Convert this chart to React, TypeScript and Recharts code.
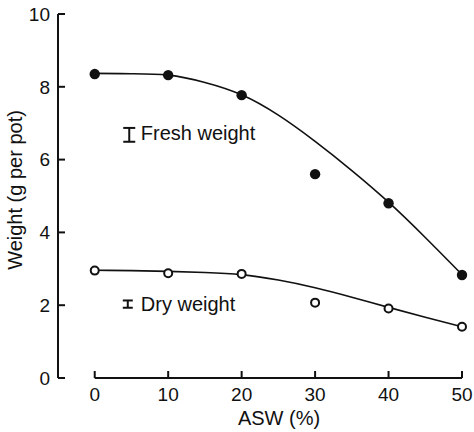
import React from "react";
import {
  ComposedChart,
  Line,
  Scatter,
  XAxis,
  YAxis,
  ReferenceLine,
  ReferenceDot,
  ErrorBar,
} from "recharts";

const FONT = "'Liberation Sans', Arial, Helvetica, sans-serif";
const INK = "#111";

// ASW levels (%) and measured weights (g per pot)
const aswLevels = [0, 10, 20, 30, 40, 50];
const freshWeight = [8.35, 8.32, 7.77, 5.6, 4.8, 2.83];
const dryWeight = [2.95, 2.88, 2.86, 2.07, 1.91, 1.41];

// fitted curves
const fitX = [0, 5, 10, 15, 20, 25, 30, 35, 40, 45, 50];
const freshFit = [8.37, 8.36, 8.32, 8.12, 7.78, 7.22, 6.5, 5.7, 4.83, 3.86, 2.84];
const dryFit = [2.96, 2.95, 2.93, 2.9, 2.84, 2.69, 2.48, 2.22, 1.94, 1.67, 1.41];

// standard-error markers next to the labels
const freshSE = [{ x: 4.7, y: 6.68, se: 0.19 }];
const drySE = [{ x: 4.5, y: 2.03, se: 0.1 }];

const xTicks = [0, 10, 20, 30, 40, 50];
const yTicks = [0, 2, 4, 6, 8, 10];

const freshPts = aswLevels.map((x, i) => ({ x, y: freshWeight[i] }));
const dryPts = aswLevels.map((x, i) => ({ x, y: dryWeight[i] }));
const freshLine = fitX.map((x, i) => ({ x, y: freshFit[i] }));
const dryLine = fitX.map((x, i) => ({ x, y: dryFit[i] }));

function XTick({ x, y, payload }: any) {
  return (
    <g>
      <line x1={x} y1={y} x2={x} y2={y - 7} stroke={INK} strokeWidth={2} />
      <text x={x} y={y + 23} textAnchor="middle" fontFamily={FONT} fontSize={19} fill={INK}>
        {payload.value}
      </text>
    </g>
  );
}

function YTick({ x, y, payload }: any) {
  return (
    <g>
      <line x1={x} y1={y} x2={x + 7} y2={y} stroke={INK} strokeWidth={2} />
      <text x={x - 8} y={y} dy="0.36em" textAnchor="end" fontFamily={FONT} fontSize={19} fill={INK}>
        {payload.value}
      </text>
    </g>
  );
}

function YTitle({ viewBox }: any) {
  const cx = 15;
  const cy = viewBox.y + viewBox.height / 2 - 6;
  return (
    <text
      x={cx}
      y={cy}
      dy="0.36em"
      textAnchor="middle"
      transform={`rotate(-90 ${cx} ${cy})`}
      fontFamily={FONT}
      fontSize={20}
      fill={INK}
    >
      Weight (g per pot)
    </text>
  );
}

const Nothing = () => <g />;

function SideLabel({ viewBox, value }: any) {
  return (
    <text x={viewBox.x + 13} y={viewBox.y} dy="0.36em" fontFamily={FONT} fontSize={20} fill={INK}>
      {value}
    </text>
  );
}

export default function App() {
  return (
    <div style={{ position: "absolute", left: 0, top: 0, background: "#fff" }}>
      <ComposedChart width={474} height={432} margin={{ top: 14, right: 12, left: 0, bottom: 0 }}>
        <XAxis
          type="number"
          dataKey="x"
          domain={[-5, 50]}
          ticks={xTicks}
          axisLine={false}
          tickLine={false}
          tickSize={0}
          tickMargin={0}
          tick={<XTick />}
          height={54}
          label={{ value: "ASW (%)", position: "insideBottom", offset: 7, dx: 19, fontFamily: FONT, fontSize: 20, fill: INK }}
        />
        <YAxis
          type="number"
          domain={[0, 10]}
          ticks={yTicks}
          width={58}
          axisLine={{ stroke: INK, strokeWidth: 2 }}
          tickLine={false}
          tickSize={0}
          tickMargin={0}
          tick={<YTick />}
          label={<YTitle />}
        />
        <ReferenceLine
          segment={[{ x: 0, y: 0 }, { x: 50, y: 0 }]}
          stroke={INK}
          strokeWidth={2}
          ifOverflow="visible"
        />
        <Line data={freshLine} dataKey="y" type="natural" stroke={INK} strokeWidth={1.6} dot={false} isAnimationActive={false} />
        <Line data={dryLine} dataKey="y" type="natural" stroke={INK} strokeWidth={1.6} dot={false} isAnimationActive={false} />
        <Scatter data={freshPts} dataKey="y" fill={INK} shape={(p: any) => <circle cx={p.cx} cy={p.cy} r={5.2} fill={INK} />} isAnimationActive={false} />
        <Scatter data={dryPts} dataKey="y" shape={(p: any) => <circle cx={p.cx} cy={p.cy} r={4} fill="#fff" stroke={INK} strokeWidth={2} />} isAnimationActive={false} />
        <Scatter data={freshSE} dataKey="y" shape={<Nothing />} isAnimationActive={false}>
          <ErrorBar dataKey="se" direction="y" width={6} stroke={INK} strokeWidth={2} isAnimationActive={false} />
        </Scatter>
        <Scatter data={drySE} dataKey="y" shape={<Nothing />} isAnimationActive={false}>
          <ErrorBar dataKey="se" direction="y" width={5} stroke={INK} strokeWidth={2} isAnimationActive={false} />
        </Scatter>
        <ReferenceDot x={4.5} y={6.75} r={0} label={<SideLabel value="Fresh weight" />} ifOverflow="visible" />
        <ReferenceDot x={4.5} y={2.03} r={0} label={<SideLabel value="Dry weight" />} ifOverflow="visible" />
      </ComposedChart>
    </div>
  );
}
